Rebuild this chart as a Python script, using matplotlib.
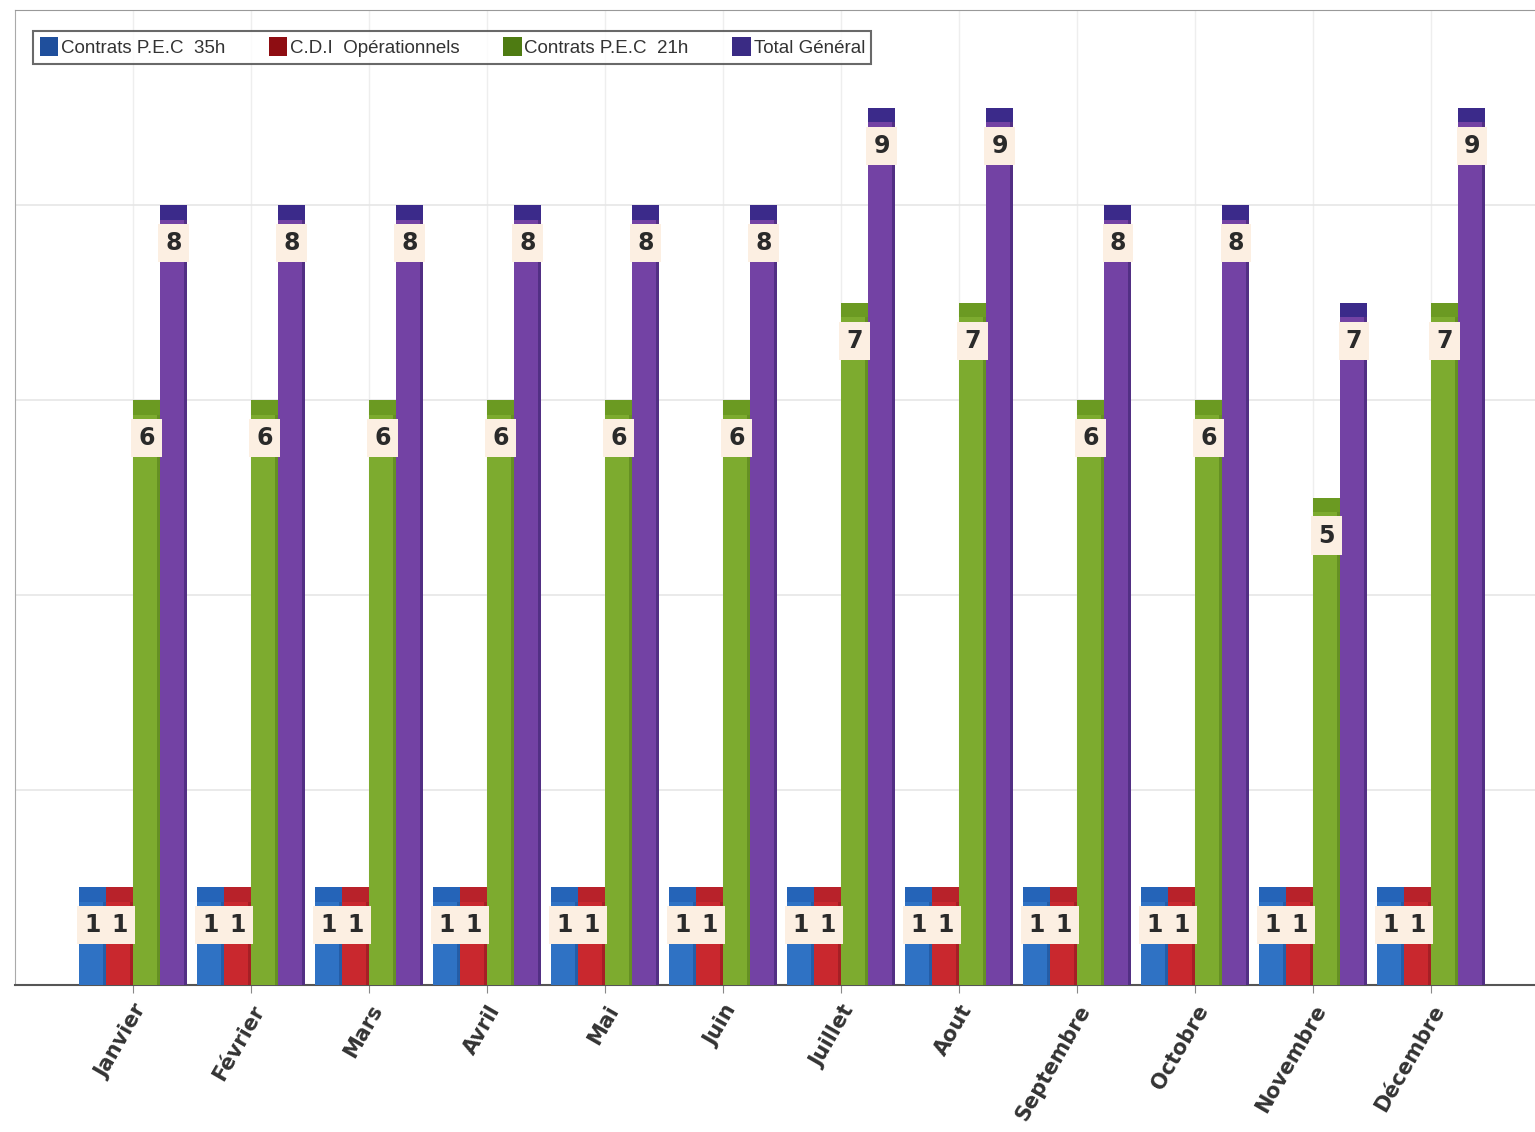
import matplotlib
matplotlib.use("Agg")
import matplotlib.pyplot as plt
import numpy as np
from matplotlib.patches import Patch

months = ["Janvier", "Février", "Mars", "Avril", "Mai", "Juin", "Juillet",
          "Aout", "Septembre", "Octobre", "Novembre", "Décembre"]
pec35 = [1, 1, 1, 1, 1, 1, 1, 1, 1, 1, 1, 1]
cdi = [1, 1, 1, 1, 1, 1, 1, 1, 1, 1, 1, 1]
pec21 = [6, 6, 6, 6, 6, 6, 7, 7, 6, 6, 5, 7]
total = [8, 8, 8, 8, 8, 8, 9, 9, 8, 8, 7, 9]
series_names = ["Contrats P.E.C  35h", "C.D.I  Opérationnels",
                "Contrats P.E.C  21h", "Total Général"]

body_colors = ["#2f72c4", "#c9282e", "#7dab2f", "#7342a4"]
cap_colors = ["#2564b8", "#b8222a", "#6b9a22", "#3b2a8a"]
edge_colors = ["#1d4f94", "#8f1a20", "#557f1c", "#3d2370"]
legend_colors = ["#1f4f9c", "#8e0d12", "#4e7b12", "#3a2b84"]

fig = plt.figure(figsize=(15.35, 11.32), dpi=100)
ax = fig.add_axes([0.0098, 0.13, 0.9902, 0.861])

x = np.arange(len(months))
w = 0.23
cap_h = 0.15
all_series = [pec35, cdi, pec21, total]

for i, vals in enumerate(all_series):
    pos = x + (i - 1.5) * w
    vals = np.array(vals, dtype=float)
    ax.bar(pos, vals, width=w, color=body_colors[i], edgecolor="none", zorder=3)
    # darker right edge for shading
    ax.bar(pos + w * 0.44, vals - cap_h, width=w * 0.12, color=edge_colors[i],
           edgecolor="none", alpha=0.6, zorder=3)
    ax.bar(pos, np.full_like(vals, cap_h), bottom=vals - cap_h, width=w,
           color=cap_colors[i], edgecolor="none", zorder=4)
    for p, v in zip(pos, vals):
        ax.text(p, v - 0.39, f"{int(v)}", ha="center", va="center",
                fontsize=17, fontweight="bold", color="#2a2a2a", zorder=6,
                bbox=dict(boxstyle="square,pad=0.3", facecolor="#fcefe2",
                          edgecolor="none"))

ax.set_xlim(-1.0, 11.88)
ax.set_ylim(0, 10)
ax.set_yticks([2, 4, 6, 8])
ax.set_yticklabels([])
ax.tick_params(axis="y", length=0)
ax.grid(axis="y", color="#e6e6e6", linewidth=1.2, zorder=0)
ax.grid(axis="x", color="#eeeeee", linewidth=1.0, zorder=0)
ax.set_xticks(x)
ax.set_xticklabels(months, rotation=60, ha="right", rotation_mode="anchor",
                   fontsize=15, fontweight="bold", color="#333333")
ax.tick_params(axis="x", length=6, color="#888888", pad=6)

ax.spines["right"].set_visible(False)
ax.spines["top"].set_color("#999999")
ax.spines["left"].set_color("#aaaaaa")
ax.spines["bottom"].set_color("#555555")
ax.spines["bottom"].set_linewidth(1.5)

handles = [Patch(facecolor=c, edgecolor="none") for c in legend_colors]
leg = ax.legend(handles, series_names, loc="upper left", ncol=4,
                bbox_to_anchor=(0.0118, 0.979), borderaxespad=0,
                frameon=True, fancybox=False,
                handlelength=1.0, handleheight=1.2, handletextpad=0.15,
                columnspacing=2.3, borderpad=0.35,
                prop={"family": ["Liberation Sans", "DejaVu Sans"], "size": 13.5})
leg.get_frame().set_edgecolor("#444444")
leg.get_frame().set_linewidth(1.5)
for t in leg.get_texts():
    t.set_color("#333333")

fig.savefig("out.png", dpi=100, facecolor="white")
